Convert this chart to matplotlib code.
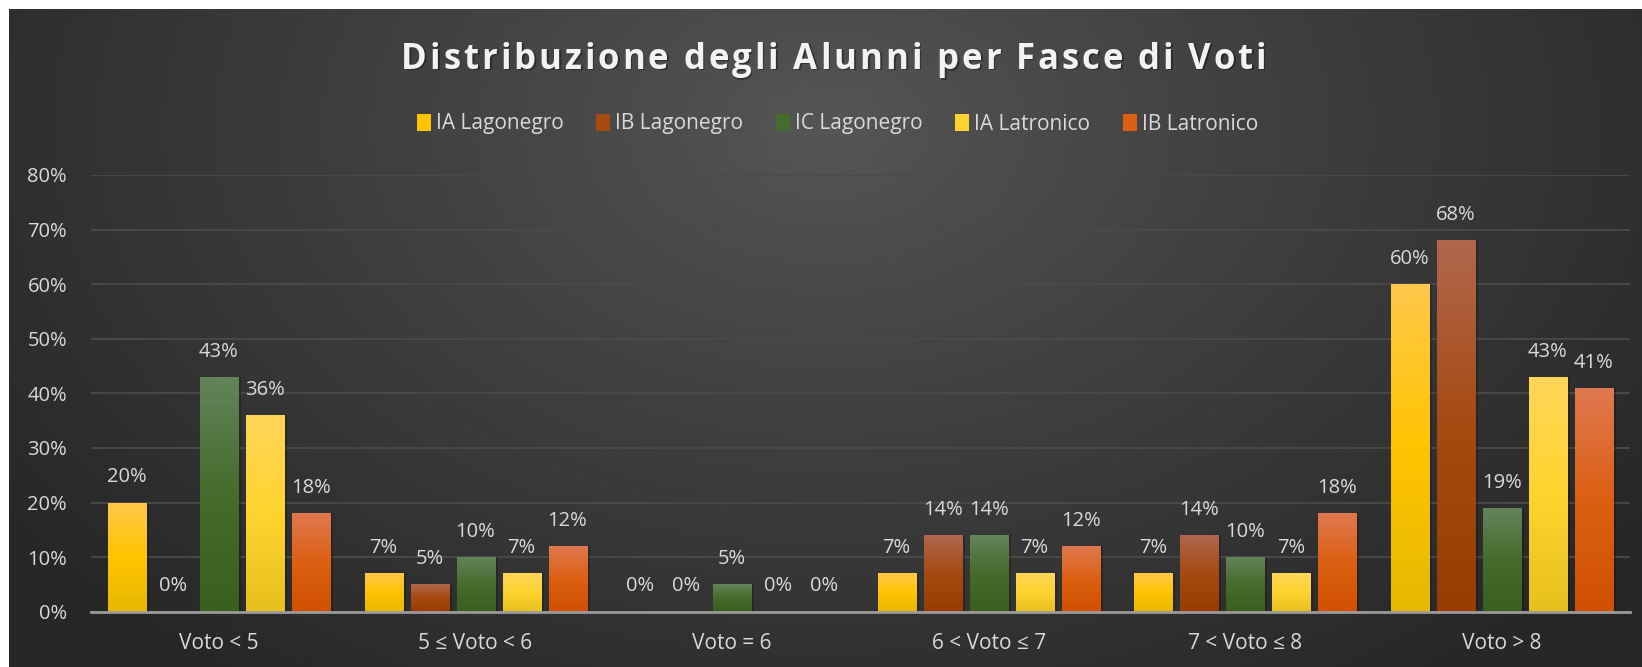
import numpy as np
import matplotlib
matplotlib.use('Agg')
import matplotlib.pyplot as plt
from matplotlib.colors import LinearSegmentedColormap, to_rgb
from matplotlib.patches import Patch
from matplotlib.ticker import PercentFormatter

categories = ['Voto < 5', '5 ≤ Voto < 6', 'Voto = 6', '6 < Voto ≤ 7', '7 < Voto ≤ 8', 'Voto > 8']
series_names = ['IA Lagonegro', 'IB Lagonegro', 'IC Lagonegro', 'IA Latronico', 'IB Latronico']
ia_lagonegro = [20, 7, 0, 7, 7, 60]
ib_lagonegro = [0, 5, 0, 14, 14, 68]
ic_lagonegro = [43, 10, 5, 14, 10, 19]
ia_latronico = [36, 7, 0, 7, 7, 43]
ib_latronico = [18, 12, 0, 12, 18, 41]
y_ticks = [0, 10, 20, 30, 40, 50, 60, 70, 80]

# (top, middle, bottom) gradient colours per series
grad_colors = [
    ('#FFC84A', '#FFC400', '#E6B800'),
    ('#B0674D', '#A64A12', '#983C00'),
    ('#63845A', '#456B2D', '#3A6020'),
    ('#FFD65A', '#FFD42E', '#E6C01E'),
    ('#E07850', '#DC5F12', '#D05000'),
]

FONT = ['Open Sans', 'DejaVu Sans']
plt.rcParams['font.family'] = FONT
TXT = '#D9D9D9'

W, H = 1642, 667
fig = plt.figure(figsize=(W / 100, H / 100), dpi=100, facecolor='white')

# background panel with radial gradient
bg = fig.add_axes([9 / W, 0, (W - 9) / W, (H - 9) / H])
bg.set_axis_off()
yy, xx = np.mgrid[0:1:300j, 0:1:800j]
d = np.sqrt(((xx - 0.5) / 0.62) ** 2 + ((yy - 0.18) / 1.05) ** 2)
d = np.clip(d, 0, 1) ** 0.9
light = np.array(to_rgb('#565656'))
dark = np.array(to_rgb('#272727'))
img = light[None, None, :] + (dark - light)[None, None, :] * d[..., None]
bg.imshow(img, aspect='auto', extent=[0, 1, 1, 0])
bg.set_xlim(0, 1)
bg.set_ylim(1, 0)

ax = fig.add_axes([90.7 / W, 55.3 / H, (1630 - 90.7) / W, 436.8 / H])
ax.patch.set_alpha(0)

data = [ia_lagonegro, ib_lagonegro, ic_lagonegro, ia_latronico, ib_latronico]
x = np.arange(len(categories))
bar_w = 38 / 256.5
step = 46 / 256.5
grad = np.linspace(0, 1, 256).reshape(-1, 1)

for i, vals in enumerate(data):
    v = np.array(vals) / 100
    xpos = x + (i - 2) * step
    top, mid, bot = grad_colors[i]
    cmap = LinearSegmentedColormap.from_list('g%d' % i, [bot, mid, top])
    # soft shadow
    ax.bar(xpos + 0.012, v, bar_w, color='black', alpha=0.22, zorder=2, linewidth=0)
    bars = ax.bar(xpos, v, bar_w, color=mid, zorder=3, linewidth=0)
    for b, val in zip(bars, v):
        if val > 0:
            x0 = b.get_x()
            im = ax.imshow(grad, cmap=cmap, origin='lower', aspect='auto',
                           extent=[x0, x0 + bar_w, 0, val], zorder=4)
            im.set_clip_path(b)
        ax.annotate('%d%%' % round(val * 100), (b.get_x() + bar_w / 2, val),
                    xytext=(0, 11), textcoords='offset points',
                    ha='center', va='bottom', color=TXT, fontsize=14.5, zorder=5)

ax.set_xlim(-0.5, len(categories) - 0.5)
ax.set_ylim(0, 0.8)
ax.set_yticks(np.array(y_ticks) / 100)
ax.yaxis.set_major_formatter(PercentFormatter(1, decimals=0))
ax.set_xticks(x)
ax.set_xticklabels(categories)
ax.tick_params(axis='both', length=0, colors=TXT, labelsize=14.5)
ax.tick_params(axis='y', pad=17)
ax.tick_params(axis='x', pad=15, labelsize=15)
ax.grid(axis='y', color='#4a4a4a', linewidth=1.3, zorder=0)
ax.set_axisbelow(True)
for s in ['top', 'right', 'left']:
    ax.spines[s].set_visible(False)
ax.spines['bottom'].set_color('#9a9a9a')
ax.spines['bottom'].set_linewidth(2)
ax.spines['bottom'].set_zorder(6)

# legend
handles = [Patch(facecolor=grad_colors[i][1], edgecolor='none') for i in range(5)]
leg = fig.legend(handles, series_names, loc='center', ncol=5,
                 bbox_to_anchor=(0.51, 1 - 124 / H), frameon=False,
                 fontsize=15, handlelength=0.68, handleheight=0.9,
                 handletextpad=0.25, columnspacing=1.55)
for t in leg.get_texts():
    t.set_color(TXT)

# title with letter spacing
title = 'Distribuzione degli Alunni per Fasce di Voti'
tkw = dict(fontsize=25, fontweight='bold', color='#F2F2F2')
r = fig.canvas.get_renderer()
def text_w(s):
    t = fig.text(0, 0, s, **tkw)
    w = t.get_window_extent(r).width
    t.remove()
    return w
wI = text_w('I')
offs = [0.0] + [text_w(title[:k] + 'I') - wI for k in range(1, len(title))]
full_w = text_w(title)
spacing = (865 - full_w) / (len(title) - 1)
left = 401
base_y = 1 - 69 / H
for k, ch in enumerate(title):
    if ch == ' ':
        continue
    px = left + offs[k] + k * spacing
    fig.text(px / W + 1.5 / W, base_y - 1.5 / H, ch, color='black', alpha=0.35,
             fontsize=25, fontweight='bold', va='baseline')
    fig.text(px / W, base_y, ch, va='baseline', **tkw)

fig.savefig('out.png', dpi=100, facecolor='white')
